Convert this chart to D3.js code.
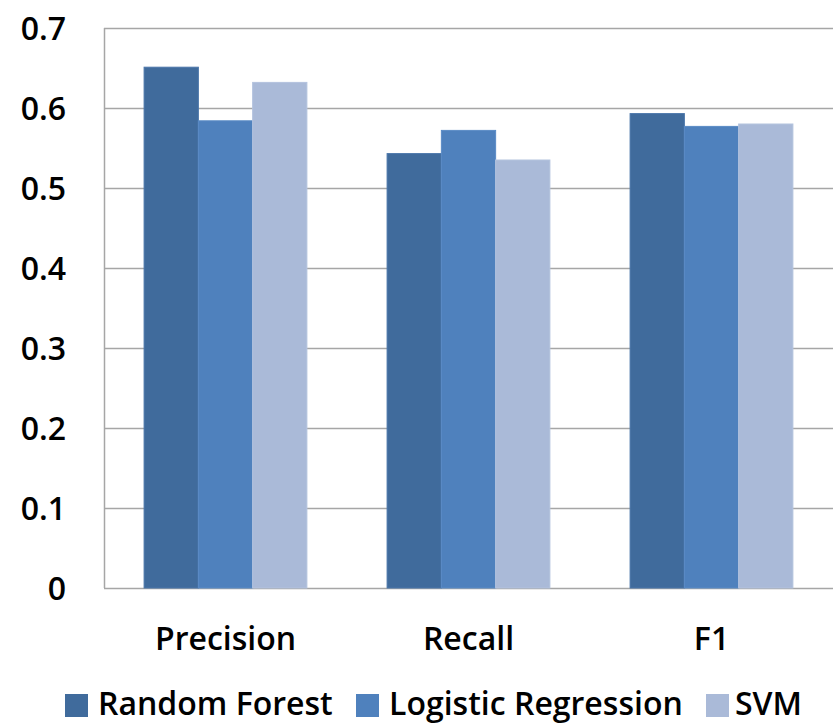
<!DOCTYPE html>
<html>
<head>
<meta charset="utf-8">
<script src="https://cdn.jsdelivr.net/npm/d3@7"></script>
<style>
  body { margin: 0; background: #fff; }
  text { font-family: "Open Sans", Lato, sans-serif; font-weight: 600; fill: #000; }
</style>
</head>
<body>
<div id="chart"></div>
<script>
var metrics = ['Precision', 'Recall', 'F1'];
var models = ['Random Forest', 'Logistic Regression', 'SVM'];
var randomForest = [0.651, 0.543, 0.593];
var logisticRegression = [0.584, 0.572, 0.577];
var svmScores = [0.632, 0.535, 0.580];
var yTicks = [0, 0.1, 0.2, 0.3, 0.4, 0.5, 0.6, 0.7];

var colors = ['#406b9c', '#4f81bd', '#aabad8'];
var strokes = ['#4a76aa', '#5a8bc6', '#b4c3de'];

var width = 833, height = 723;
var margin = { top: 28, right: 0, bottom: 135, left: 104 };

var svg = d3.select('#chart').append('svg')
    .attr('width', width)
    .attr('height', height);

var x = d3.scaleBand()
    .domain(metrics)
    .range([margin.left, width - margin.right])
    .paddingInner(0.33)
    .paddingOuter(0.165);

var x1 = d3.scaleBand()
    .domain(models)
    .range([0, x.bandwidth()]);

var y = d3.scaleLinear()
    .domain([0, 0.7])
    .range([height - margin.bottom, margin.top]);

// gridlines
svg.append('g')
    .selectAll('line')
    .data(yTicks)
    .join('line')
    .attr('x1', margin.left)
    .attr('x2', width)
    .attr('y1', d => Math.round(y(d)) + 0.5)
    .attr('y2', d => Math.round(y(d)) + 0.5)
    .attr('stroke', '#a6a6a6')
    .attr('stroke-width', 1.5);

// left border
svg.append('line')
    .attr('x1', margin.left + 0.5).attr('x2', margin.left + 0.5)
    .attr('y1', y(0.7)).attr('y2', y(0))
    .attr('stroke', '#a6a6a6')
    .attr('stroke-width', 1.5);

var series = [randomForest, logisticRegression, svmScores];

series.forEach(function(vals, si) {
    svg.append('g')
        .selectAll('rect')
        .data(vals)
        .join('rect')
        .attr('x', (d, i) => x(metrics[i]) + x1(models[si]))
        .attr('y', d => y(d))
        .attr('width', x1.bandwidth())
        .attr('height', d => y(0) - y(d))
        .attr('fill', colors[si])
        .attr('stroke', strokes[si])
        .attr('stroke-width', 1);
});

// y axis labels
var yAxis = svg.append('g')
    .attr('transform', `translate(${margin.left},0)`)
    .call(d3.axisLeft(y).tickValues(yTicks).tickFormat(d3.format('')).tickSize(0).tickPadding(38));
yAxis.select('.domain').remove();
yAxis.selectAll('text')
    .attr('font-size', 32)
    .attr('font-family', null)
    .attr('dy', '0.36em');

// x axis labels
var xAxis = svg.append('g')
    .attr('transform', `translate(0,${y(0)})`)
    .call(d3.axisBottom(x).tickSize(0).tickPadding(39));
xAxis.select('.domain').remove();
xAxis.selectAll('text')
    .attr('font-size', 32)
    .attr('font-family', null);

// legend
var legendX = [65, 356, 706];
var legendGap = [33, 33, 29];
var legend = svg.append('g')
    .selectAll('g')
    .data(models)
    .join('g')
    .attr('transform', (d, i) => `translate(${legendX[i]},694)`);

legend.append('rect')
    .attr('width', 23)
    .attr('height', 23)
    .attr('fill', (d, i) => colors[i]);

legend.append('text')
    .attr('x', (d, i) => legendGap[i])
    .attr('y', 21)
    .attr('font-size', 32)
    .text(d => d);
</script>
</body>
</html>
